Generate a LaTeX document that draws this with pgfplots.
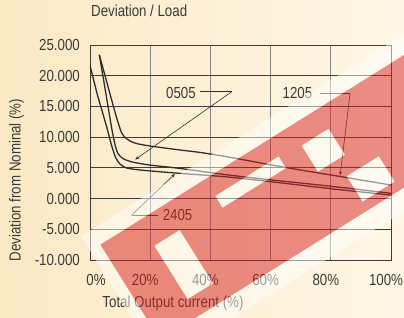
\documentclass[border=0pt]{standalone}
\usepackage{fontspec}
\setmainfont{Liberation Sans}[FakeStretch=0.83]
\usepackage{pgfplots}
\pgfplotsset{compat=1.18}
\usetikzlibrary{arrows.meta}
\definecolor{txt}{HTML}{3A3A3A}
\definecolor{gridv}{HTML}{858585}
\definecolor{gridh}{HTML}{3C3C3C}
\definecolor{curve}{HTML}{2E2E2E}
\definecolor{bgl}{RGB}{251,233,196}
\definecolor{bgr}{RGB}{255,247,230}
\definecolor{wm}{RGB}{215,35,35}
\begin{document}
\fontsize{16bp}{19bp}\selectfont
\begin{tikzpicture}
\useasboundingbox (-90bp,-58bp) rectangle (314bp,260bp);
\clip (-90bp,-58bp) rectangle (314bp,260bp);
\shade[left color=bgl, right color=bgr] (-90bp,-58bp) rectangle (314bp,260bp);
\begin{axis}[
  at={(0,0)}, anchor=south west,
  scale only axis, width=301bp, height=215bp,
  xmin=0, xmax=100, ymin=-10, ymax=25,
  xtick={0,20,40,60,80,100},
  ytick={-10,-5,0,5,10,15,20,25},
  xticklabels={\hspace*{22bp}0\%,20\%,40\%,60\%,80\%,100\%},
  yticklabels={-10.000,-5.000,0.000,5.000,10.000,15.000,20.000,25.000},
  major tick length=0pt,
  xmajorgrids, ymajorgrids,
  x grid style={color=gridv, line width=0.9bp},
  y grid style={color=gridh, line width=0.9bp},
  axis line style={color=gridh, line width=0.9bp},
  tick label style={text=txt, inner sep=0pt},
  yticklabel style={xshift=-10bp},
  xticklabel style={yshift=-14.5bp, xshift=-5bp},
  title={Deviation / Load},
  title style={at={(axis description cs:0.0033,1.1326)}, anchor=west, inner sep=0pt, text=txt},
  xlabel={Total Output current (\%)},
  xlabel style={at={(axis description cs:0.2757,-0.2)}, anchor=center, text=txt},
  ylabel={Deviation from Nominal (\%)},
  ylabel style={at={(axis description cs:-0.2442,0.3721)}, anchor=center, text=txt},
]
% 1205
\addplot[curve, line width=1.3bp, smooth, tension=0.4] coordinates {
 (3.1,23.4) (5,20.0) (7,16.4) (9,12.9) (10.5,10.7) (12,9.8) (14,9.2) (16,8.9)
 (20,8.55) (30,7.9) (36,7.55) (45,6.85) (60,5.5) (70,4.65) (83,3.6) (100,2.2)};
% 0505
\addplot[curve, line width=1.3bp, smooth, tension=0.4] coordinates {
 (3.1,23.4) (5,17.9) (6.5,13.5) (7.3,11.2) (8.3,8.8) (9.3,7.3) (11,6.5) (13,6.1)
 (15,5.85) (20,5.45) (30,4.9) (45,3.9) (60,3.05) (81,1.95) (100,0.85)};
% 2405
\addplot[curve, line width=1.3bp, smooth, tension=0.4] coordinates {
 (0,21.7) (2.4,17.0) (4.3,13.8) (5.8,11.2) (7.2,8.6) (8.5,6.7) (10,5.6) (12,5.0)
 (15,4.75) (20,4.5) (30,4.1) (45,3.55) (60,2.75) (81,1.55) (100,0.57)};
% annotations
\node[text=txt] at (axis cs:30.2,17.2) {0505};
\draw[curve, line width=0.6bp] (axis cs:36.5,17.4) -- (axis cs:47.1,17.4);
\draw[curve, line width=0.6bp, -{Stealth[length=4bp,width=3bp]}] (axis cs:47.1,17.4) -- (axis cs:15,6.35);
\node[text=txt] at (axis cs:68.9,17.2) {1205};
\draw[curve, line width=0.6bp] (axis cs:76.4,17.1) -- (axis cs:86.4,17.1);
\draw[curve, line width=0.6bp, -{Stealth[length=4bp,width=3bp]}] (axis cs:86.4,17.1) -- (axis cs:83.1,3.75);
\node[text=txt] at (axis cs:29.1,-2.7) {2405};
\draw[curve, line width=0.6bp] (axis cs:13.8,-2.7) -- (axis cs:22.7,-2.7);
\draw[curve, line width=0.6bp, -{Stealth[length=4bp,width=3bp]}] (axis cs:13.8,-2.7) -- (axis cs:28.2,4.0);
\end{axis}
% watermark
\begin{scope}[rotate=32]
\fill[white, opacity=0.5, even odd rule]
  (5bp,-125bp) rectangle (470bp,25bp)
  (17bp,-105bp) rectangle (460bp,7.5bp)
  (62bp,-85bp) rectangle (92bp,-22bp)
  (140bp,-26bp) rectangle (215bp,-12bp)
  (240bp,-46bp) rectangle (272bp,-15bp)
  (262bp,-95bp) rectangle (300bp,-65bp);
\fill[wm, opacity=0.5, even odd rule]
  (17bp,-105bp) rectangle (460bp,7.5bp)
  (62bp,-85bp) rectangle (92bp,-22bp)
  (140bp,-26bp) rectangle (215bp,-12bp)
  (240bp,-46bp) rectangle (272bp,-15bp)
  (262bp,-95bp) rectangle (300bp,-65bp);
\end{scope}
\end{tikzpicture}
\end{document}
